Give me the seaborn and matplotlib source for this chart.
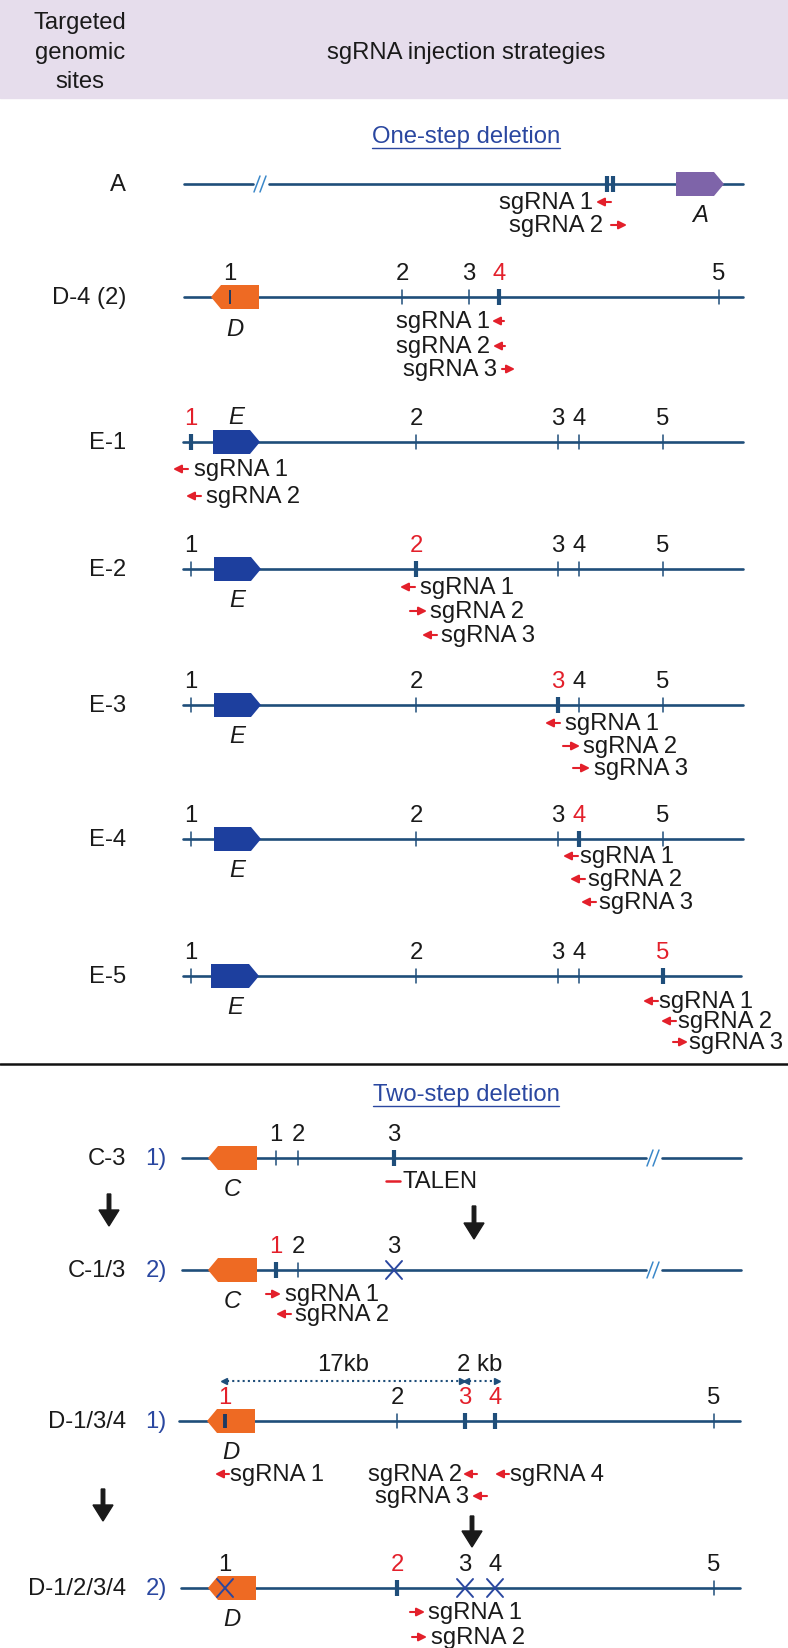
import numpy as np
import pandas as pd
import matplotlib
matplotlib.use('Agg')
import matplotlib.pyplot as plt
from matplotlib.patches import Polygon, Rectangle
import seaborn as sns

sns.set_theme(style='white')
plt.rcParams['font.family'] = ['Liberation Sans', 'DejaVu Sans']
FS = 17.2

LINE = '#1f4e7a'
RED = '#e3202b'
NAVY = '#2a47a0'
BREAK = '#3b88c9'
INK = '#1a1a1a'

# header / section text
header_left = ['Targeted', 'genomic', 'sites']
header_right = 'sgRNA injection strategies'
section_titles = ['One-step deletion', 'Two-step deletion']
section_y = [137, 1095]

# rows (targeted genomic sites)
row_names = ['A', 'D-4 (2)', 'E-1', 'E-2', 'E-3', 'E-4', 'E-5',
             'C-3', 'C-1/3', 'D-1/3/4', 'D-1/2/3/4']
row_y = [185, 298, 443, 570, 706, 840, 977, 1159, 1271, 1422, 1589]
row_step = ['', '', '', '', '', '', '', '1)', '2)', '1)', '2)']
line_x0 = [184, 184, 183, 183, 183, 183, 183, 182, 182, 179, 181]
line_x1 = [743, 743, 743, 743, 743, 743, 741, 741, 741, 740, 740]
break_x = [261, None, None, None, None, None, None, 654, 654, None, None]

# target sites along each locus
d_sites = [230, 402, 469, 499, 719]
e_sites = [191, 416, 558, 579, 663]
c_sites = [276, 298, 394]
d2_sites = [225, 397, 465, 495, 714]
site_x = [[607, 613], d_sites, e_sites, e_sites, e_sites, e_sites, e_sites,
          c_sites, c_sites, d2_sites, d2_sites]
five = ['1', '2', '3', '4', '5']
three = ['1', '2', '3']
site_lab = [['', ''], five, five, five, five, five, five, three, three, five, five]
# t = thin tick, T = cut site, x = deleted, i = inside gene
site_kind = [['T', 'T'], ['i', 't', 't', 'T', 't'],
             ['T', 't', 't', 't', 't'], ['t', 'T', 't', 't', 't'], ['t', 't', 'T', 't', 't'],
             ['t', 't', 't', 'T', 't'], ['t', 't', 't', 't', 'T'],
             ['t', 't', 'T'], ['T', 't', 'x'], ['i', 't', 'T', 'T', 't'], ['xi', 'T', 'x', 'x', 't']]
site_red = [[], [3], [0], [1], [2], [3], [4], [], [0], [0, 2, 3], [1]]

# genes: name, start, end, direction, colour
gene_name = ['A', 'D', 'E', 'E', 'E', 'E', 'E', 'C', 'C', 'D', 'D']
gene_x0 = [676, 211, 213, 214, 214, 214, 211, 208, 208, 207, 208]
gene_x1 = [724, 259, 260, 261, 261, 261, 259, 257, 257, 255, 256]
gene_dir = [1, -1, 1, 1, 1, 1, 1, -1, -1, -1, -1]
gene_col = ['#7e64a9', '#ee6a23', '#1d3f9e', '#1d3f9e', '#1d3f9e', '#1d3f9e', '#1d3f9e',
            '#ee6a23', '#ee6a23', '#ee6a23', '#ee6a23']
gene_above = [False, False, True, False, False, False, False, False, False, False, False]

# sgRNAs: text, y, text x, alignment, arrow x0, arrow x1, direction
sgrna_guides = [
    ('sgRNA 1', 203, 593, 'right', 596, 611, -1), ('sgRNA 2', 226, 603, 'right', 611, 627, 1),
    ('sgRNA 1', 322, 490, 'right', 492, 504, -1), ('sgRNA 2', 347, 490, 'right', 493, 505, -1),
    ('sgRNA 3', 370, 497, 'right', 502, 515, 1),
    ('sgRNA 1', 470, 194, 'left', 173, 188, -1), ('sgRNA 2', 497, 206, 'left', 186, 201, -1),
    ('sgRNA 1', 588, 420, 'left', 400, 415, -1), ('sgRNA 2', 612, 430, 'left', 410, 427, 1),
    ('sgRNA 3', 636, 441, 'left', 422, 437, -1),
    ('sgRNA 1', 724, 565, 'left', 545, 560, -1), ('sgRNA 2', 747, 583, 'left', 563, 580, 1),
    ('sgRNA 3', 769, 594, 'left', 573, 590, 1),
    ('sgRNA 1', 857, 580, 'left', 563, 578, -1), ('sgRNA 2', 880, 588, 'left', 570, 585, -1),
    ('sgRNA 3', 903, 599, 'left', 581, 596, -1),
    ('sgRNA 1', 1002, 659, 'left', 643, 658, -1), ('sgRNA 2', 1022, 678, 'left', 661, 676, -1),
    ('sgRNA 3', 1043, 689, 'left', 673, 688, 1),
    ('sgRNA 1', 1295, 285, 'left', 266, 281, 1), ('sgRNA 2', 1315, 295, 'left', 276, 291, -1),
    ('sgRNA 1', 1475, 230, 'left', 215, 229, -1), ('sgRNA 2', 1475, 462, 'right', 463, 477, -1),
    ('sgRNA 4', 1475, 510, 'left', 495, 509, -1), ('sgRNA 3', 1497, 469, 'right', 472, 487, -1),
    ('sgRNA 1', 1613, 428, 'left', 410, 425, 1), ('sgRNA 2', 1638, 431, 'left', 412, 427, 1),
]

# step arrows (x, top, tip)
step_x = [109, 474, 103, 472]
step_top = [1195, 1207, 1490, 1517]
step_tip = [1227, 1240, 1522, 1548]

# distances on D-1/3/4
span_lab = ['17kb', '2 kb']
span_x0 = [224, 466]
span_x1 = [462, 497]

W, H = 788, 1649
fig = plt.figure(figsize=(W / 100, H / 100), dpi=100)
ax = fig.add_axes([0, 0, 1, 1])

# backbone lines through seaborn
segs = []
for i, y in enumerate(row_y):
    b = break_x[i]
    if b is None:
        parts = [(line_x0[i], line_x1[i])]
    else:
        parts = [(line_x0[i], b - 8), (b + 8, line_x1[i])]
    for j, (a, c) in enumerate(parts):
        segs.append({'seg': f'{i}-{j}', 'x': a, 'y': y})
        segs.append({'seg': f'{i}-{j}', 'x': c, 'y': y})
df = pd.DataFrame(segs)
sns.lineplot(data=df, x='x', y='y', units='seg', estimator=None, sort=False,
             color=LINE, lw=1.9, ax=ax, legend=False)

ax.set_xlim(0, W)
ax.set_ylim(H, 0)
ax.axis('off')

# header
ax.add_patch(Rectangle((0, 0), W, 99, color='#e6ddec', zorder=0))
for k, s in enumerate(header_left):
    ax.text(80, 23 + 29.5 * k, s, ha='center', va='center', fontsize=FS, color=INK)
ax.text(466, 53, header_right, ha='center', va='center', fontsize=FS, color=INK)

# section titles, underlined
fig.canvas.draw()
inv = ax.transData.inverted()
for s, y in zip(section_titles, section_y):
    t = ax.text(466, y, s, ha='center', va='center', fontsize=FS, color=NAVY)
    bb = t.get_window_extent(fig.canvas.get_renderer())
    (xa, _), (xb, _) = inv.transform([[bb.x0, bb.y0], [bb.x1, bb.y1]])
    ax.plot([xa, xb], [y + 12, y + 12], color=NAVY, lw=1)
ax.plot([0, W], [1065, 1065], color='#111111', lw=1.8)


def gene_shape(x0, x1, y, d, col):
    h, tip = 12, 10
    if d > 0:
        pts = [(x0, y - h), (x1 - tip, y - h), (x1, y), (x1 - tip, y + h), (x0, y + h)]
    else:
        pts = [(x0, y), (x0 + tip, y - h), (x1, y - h), (x1, y + h), (x0 + tip, y + h)]
    ax.add_patch(Polygon(pts, closed=True, facecolor=col, edgecolor='none', zorder=3))


def cross(x, y, s=8):
    ax.plot([x - s, x + s], [y - s - 1, y + s + 1], color=NAVY, lw=1.4, zorder=5)
    ax.plot([x - s, x + s], [y + s + 1, y - s - 1], color=NAVY, lw=1.4, zorder=5)


for i, y in enumerate(row_y):
    ax.text(126, y, row_names[i], ha='right', va='center', fontsize=FS, color=INK)
    if row_step[i]:
        ax.text(156, y, row_step[i], ha='center', va='center', fontsize=FS, color=NAVY)
    b = break_x[i]
    if b is not None:
        for dx in (-4, 2):
            ax.plot([b + dx - 3, b + dx + 3], [y + 8, y - 8], color=BREAK, lw=1.1)
    gene_shape(gene_x0[i], gene_x1[i], y, gene_dir[i], gene_col[i])
    gx = (gene_x0[i] + gene_x1[i]) / 2
    gy = y - 26 if gene_above[i] else y + 31
    ax.text(gx, gy, gene_name[i], ha='center', va='center', fontsize=FS,
            style='italic', color=INK)
    for k, (sx, lab, kind) in enumerate(zip(site_x[i], site_lab[i], site_kind[i])):
        if 'x' in kind:
            cross(sx, y)
        elif kind == 't':
            ax.plot([sx, sx], [y - 7, y + 7], color=LINE, lw=1.1, zorder=4)
        elif kind == 'i':
            ax.plot([sx, sx], [y - 7, y + 7], color='#1d3a63', lw=2.8 if k in site_red[i] else 1.4,
                    zorder=4, solid_capstyle='butt')
        else:
            ax.plot([sx, sx], [y - 8, y + 8], color=LINE, lw=3, zorder=4, solid_capstyle='butt')
        if lab:
            ax.text(sx, y - 24, lab, ha='center', va='center', fontsize=FS,
                    color=RED if k in site_red[i] else INK)

# sgRNA guides with red strand arrows
for text, y, tx, ha, a0, a1, d in sgrna_guides:
    ax.text(tx, y, text, ha=ha, va='center', fontsize=FS, color=INK)
    tail, head = (a0, a1) if d > 0 else (a1, a0)
    ax.annotate('', xy=(head, y), xytext=(tail, y),
                arrowprops=dict(arrowstyle='-|>', color=RED, lw=1.5, mutation_scale=12,
                                shrinkA=0, shrinkB=0))

# TALEN
ax.plot([386, 400], [1182, 1182], color=RED, lw=1.8)
ax.text(403, 1182, 'TALEN', ha='left', va='center', fontsize=FS, color=INK)

# step arrows
for x, t0, t1 in zip(step_x, step_top, step_tip):
    ax.arrow(x, t0, 0, t1 - t0, width=3.5, head_width=20, head_length=16,
             length_includes_head=True, color=INK, zorder=6)

# dotted distance spans
for lab, a, b in zip(span_lab, span_x0, span_x1):
    ax.plot([a + 3, b - 3], [1382, 1382], color=LINE, lw=1.5, ls=(0, (1, 1.5)))
    ax.plot([a], [1382], marker='<', ms=4, color=LINE)
    ax.plot([b], [1382], marker='>', ms=4, color=LINE)
    ax.text((a + b) / 2 + (0 if lab == '17kb' else -2), 1365, lab, ha='center', va='center',
            fontsize=FS, color=INK)

fig.savefig('out.png', dpi=100)
